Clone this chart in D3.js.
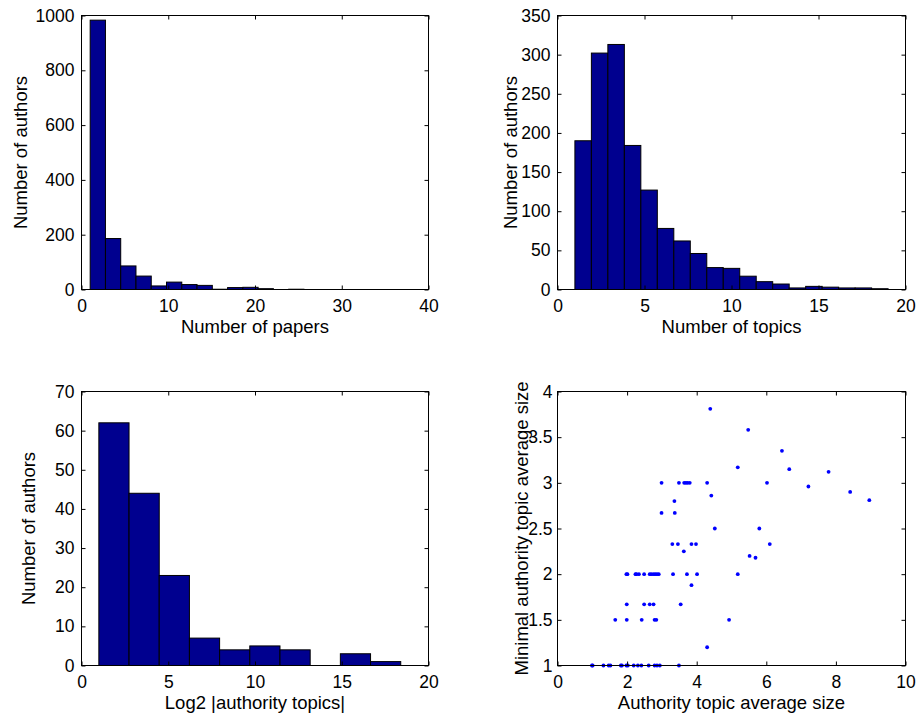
<!DOCTYPE html>
<html>
<head>
<meta charset="utf-8">
<script src="https://cdn.jsdelivr.net/npm/d3@7"></script>
<style>
  body { margin: 0; background: #fff; }
  svg { display: block; font-family: "Liberation Sans", Arial, sans-serif; }
  .frame { fill: none; stroke: #000; stroke-width: 1; }
  .tick text { font-size: 17.5px; fill: #000; }
  .title { font-size: 18.5px; fill: #000; }
</style>
</head>
<body>
<svg width="918" height="715"></svg>
<script>
// --- data ---
const papersRange = [1, 36.2];
const papersCounts = [983, 186, 86, 49, 13, 27, 18, 15, 1, 7, 8, 3, 0, 1, 0, 0, 0, 0, 0, 0];

const topicsRange = [1, 19];
const topicsCounts = [190, 302, 313, 184, 127, 78, 62, 46, 28, 27, 17, 10, 7, 2, 4, 3, 2, 2, 1];

const log2Range = [1, 18.4];
const log2Counts = [62, 44, 23, 7, 4, 5, 4, 0, 3, 1];

const avgSize = [
  4.39, 5.48, 6.45, 5.18, 6.66, 7.79,
  2.99, 3.49, 3.64, 3.69, 3.74, 3.80, 4.30, 6.02,
  7.21, 8.41, 8.96, 3.36, 4.42, 2.99, 3.37, 4.52, 5.80,
  3.30, 3.46, 3.85, 3.98, 6.10, 3.63, 5.52, 5.69,
  1.98, 2.01, 2.24, 2.27, 2.34, 2.49, 2.65, 2.70, 2.76, 2.81, 2.86, 2.91, 3.32, 3.72, 4.01, 5.18,
  3.85,
  1.99, 2.49, 2.65, 2.76, 3.54,
  1.66, 1.99, 2.42, 2.79, 2.84, 4.93,
  4.30,
  0.99, 1.01, 1.32, 1.47, 1.52, 1.82, 1.85, 1.98, 2.02, 2.19, 2.31, 2.41, 2.62, 2.79, 2.86, 2.94, 3.49
];
const minSize = [
  3.81, 3.58, 3.35, 3.17, 3.15, 3.12,
  3.0, 3.0, 3.0, 3.0, 3.0, 3.0, 3.0, 3.0,
  2.96, 2.90, 2.81, 2.80, 2.86, 2.67, 2.67, 2.50, 2.50,
  2.33, 2.33, 2.33, 2.33, 2.33, 2.25, 2.20, 2.18,
  2, 2, 2, 2, 2, 2, 2, 2, 2, 2, 2, 2, 2, 2, 2, 2,
  1.88,
  1.67, 1.67, 1.67, 1.67, 1.67,
  1.5, 1.5, 1.5, 1.5, 1.5, 1.5,
  1.20,
  1, 1, 1, 1, 1, 1, 1, 1, 1, 1, 1, 1, 1, 1, 1, 1, 1
];

const svg = d3.select("svg");
const barFill = "#00008f";

function makeAxes(box, xDomain, yDomain, xTicks, yTicks, xTitle, yTitle, yTitleX, yPad) {
  const x = d3.scaleLinear().domain(xDomain).range([box.x0, box.x1]);
  const y = d3.scaleLinear().domain(yDomain).range([box.y1, box.y0]);
  const g = svg.append("g");
  const plot = g.append("g");
  const tl = 4;
  // ticks on all four sides, pointing inward
  g.append("g").attr("transform", `translate(0,${box.y1})`)
    .call(d3.axisBottom(x).tickValues(xTicks).tickSize(-tl).tickPadding(8).tickFormat(d3.format("")))
    .call(a => { a.select(".domain").remove(); a.selectAll(".tick text").attr("dy", "0.8em"); });
  g.append("g").attr("transform", `translate(0,${box.y0})`)
    .call(d3.axisTop(x).tickValues(xTicks).tickSize(-tl).tickFormat(""))
    .call(a => a.select(".domain").remove());
  g.append("g").attr("transform", `translate(${box.x0},0)`)
    .call(d3.axisLeft(y).tickValues(yTicks).tickSize(-tl).tickPadding(yPad).tickFormat(d3.format("")))
    .call(a => a.select(".domain").remove());
  g.append("g").attr("transform", `translate(${box.x1},0)`)
    .call(d3.axisRight(y).tickValues(yTicks).tickSize(-tl).tickFormat(""))
    .call(a => a.select(".domain").remove());
  g.selectAll(".tick line").attr("stroke", "#000");
  g.append("rect").attr("class", "frame")
    .attr("x", box.x0).attr("y", box.y0)
    .attr("width", box.x1 - box.x0).attr("height", box.y1 - box.y0);
  g.append("text").attr("class", "title")
    .attr("x", (box.x0 + box.x1) / 2).attr("y", box.y1 + 43)
    .attr("text-anchor", "middle").text(xTitle);
  g.append("text").attr("class", "title")
    .attr("transform", `translate(${yTitleX},${(box.y0 + box.y1) / 2}) rotate(-90)`)
    .attr("text-anchor", "middle").text(yTitle);
  return {x, y, plot};
}

function histogram(box, range, counts, xDomain, yDomain, xTicks, yTicks, xTitle, yTitle, yTitleX) {
  const {x, y, plot} = makeAxes(box, xDomain, yDomain, xTicks, yTicks, xTitle, yTitle, yTitleX, 7);
  const w = (range[1] - range[0]) / counts.length;
  const bins = counts.map((c, i) => ({x0: range[0] + i * w, x1: range[0] + (i + 1) * w, c}));
  plot.selectAll("rect").data(bins).enter().append("rect")
    .attr("x", d => x(d.x0)).attr("width", d => x(d.x1) - x(d.x0))
    .attr("y", d => y(d.c)).attr("height", d => y(0) - y(d.c))
    .attr("fill", barFill).attr("stroke", "#000").attr("stroke-width", 1);
}

const L = {x0: 81.5, x1: 428.5}, R = {x0: 557.5, x1: 905.5};
const T = {y0: 15.5, y1: 289.5}, B = {y0: 391.5, y1: 665.5};

histogram({...L, ...T}, papersRange, papersCounts, [0, 40], [0, 1000],
  [0, 10, 20, 30, 40], d3.range(0, 1001, 200), "Number of papers", "Number of authors", 27);

histogram({...R, ...T}, topicsRange, topicsCounts, [0, 20], [0, 350],
  [0, 5, 10, 15, 20], d3.range(0, 351, 50), "Number of topics", "Number of authors", 517);

histogram({...L, ...B}, log2Range, log2Counts, [0, 20], [0, 70],
  [0, 5, 10, 15, 20], d3.range(0, 71, 10), "Log2 |authority topics|", "Number of authors", 35);

// scatter
(function() {
  const {x, y, plot} = makeAxes({...R, ...B}, [0, 10], [1, 4],
    [0, 2, 4, 6, 8, 10], [1, 1.5, 2, 2.5, 3, 3.5, 4],
    "Authority topic average size", "Minimal authority topic average size", 528, 5);
  plot.selectAll("circle").data(avgSize).enter().append("circle")
    .attr("cx", d => x(d)).attr("cy", (d, i) => y(minSize[i]))
    .attr("r", 1.9).attr("fill", "#0000ff");
})();
</script>
</body>
</html>
